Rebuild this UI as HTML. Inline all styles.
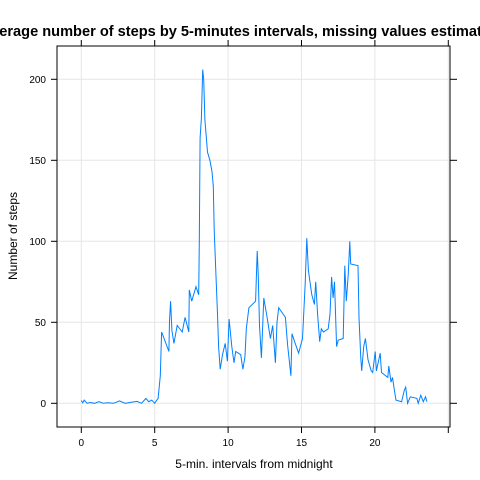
<!DOCTYPE html>
<html><head><meta charset="utf-8">
<style>
html,body{margin:0;padding:0;background:#fff;}
svg{display:block;font-family:"Liberation Sans",sans-serif;}
</style></head><body>
<svg id="chart" width="480" height="480" viewBox="0 0 480 480">
<text x="240" y="36" text-anchor="middle" font-size="14.6" font-weight="bold">Average number of steps by 5-minutes intervals, missing values estimated</text>
<g id="grid"></g>
<g id="axes"></g>
<path id="line" fill="none" stroke="#0080ff" stroke-width="1"></path>
<rect x="57" y="46" width="393" height="381" fill="none" stroke="#000" stroke-width="1"></rect>
<text x="254" y="468" text-anchor="middle" font-size="12">5-min. intervals from midnight</text>
<text transform="translate(17,236) rotate(-90)" text-anchor="middle" font-size="12">Number of steps</text>
</svg>
<script>
const hours=[0,0.1,0.2,0.4,0.6,0.9,1.2,1.5,1.8,2.2,2.6,3.0,3.4,3.8,4.1,4.4,4.6,4.8,5.0,5.1,5.23,5.38,5.47,5.56,5.97,6.01,6.08,6.17,6.31,6.53,6.87,7.07,7.32,7.36,7.52,7.81,8.0,8.04,8.09,8.18,8.27,8.34,8.42,8.6,8.76,8.9,8.99,9.05,9.17,9.28,9.35,9.46,9.62,9.8,9.95,10.07,10.25,10.4,10.52,10.86,11.01,11.15,11.24,11.42,11.87,11.98,12.05,12.14,12.27,12.43,12.66,12.88,13.04,13.22,13.33,13.45,13.9,14.05,14.28,14.35,14.53,14.8,15.07,15.25,15.36,15.47,15.7,15.88,15.97,16.1,16.24,16.35,16.5,16.82,16.94,17.05,17.15,17.25,17.39,17.5,17.84,17.95,18.05,18.18,18.29,18.35,18.85,18.92,19.03,19.1,19.24,19.35,19.53,19.75,19.85,20.02,20.1,20.36,20.45,20.88,20.95,21.1,21.2,21.33,21.44,21.82,22.0,22.1,22.23,22.41,22.86,22.95,23.13,23.3,23.45,23.55];
const steps=[1.7,0.3,2,0,0.5,0,1,0,0.4,0,1.5,0,0.6,1.2,0,3,1,2,0,1.5,3,17,44,42,32,51,63,45,37,48,44,53,44,70,63,72,67,100,164,176,206,200,175,155,150,143,134,107,80,55,35,21,30,37,26,52,35,25,32,30,21,29,46,59,63,94,80,48,28,65,53,40,48,25,50,59,53,36,17,43,38,31,40,74,102,82,67,61,75,55,38,46,44,46,55,78,65,75,35,39,40,85,63,79,100,86,85,53,29,20,35,40,27,20,19,32,20,31,19,16,23,13,16,8,2,1,8,10,0,4,3,0,5,1,4,1];
const xTicks=[0,5,10,15,20,25];
const xLabels=['0','5','10','15','20',''];
const yTicks=[0,50,100,150,200];
const X=h=>81.3+h*14.68;
const Y=v=>403.3-v*1.62;
const NS="http://www.w3.org/2000/svg";
const grid=document.getElementById('grid'),axes=document.getElementById('axes');
function mk(tag,at,par){const e=document.createElementNS(NS,tag);for(const k in at)e.setAttribute(k,at[k]);par.appendChild(e);return e;}
xTicks.forEach((t,i)=>{
  if(X(t)<450){const g=mk('line',{x1:X(t),x2:X(t),y1:46,y2:427,stroke:'#e6e6e6'},grid);
  
  }
  [[427,433],[40,46]].forEach(p=>{const l=mk('line',{x1:X(t),x2:X(t),y1:p[0],y2:p[1],stroke:'#000'},axes);
  
  });
  const tx=mk('text',{x:X(t),y:446,'text-anchor':'middle','font-size':10},axes);tx.textContent=xLabels[i];
  
  
});
yTicks.forEach(t=>{
  const g=mk('line',{x1:57,x2:450,y1:Y(t),y2:Y(t),stroke:'#e6e6e6'},grid);
  
  
  [[51,57],[450,457]].forEach(p=>{const l=mk('line',{x1:p[0],x2:p[1],y1:Y(t),y2:Y(t),stroke:'#000'},axes);
  
  });
  const tx=mk('text',{x:46,y:Y(t)+3.5,'text-anchor':'end','font-size':10},axes);tx.textContent=t;
  
  
});
document.getElementById('line').setAttribute('d',hours.map((h,i)=>(i?'L':'M')+X(h).toFixed(1)+','+Y(steps[i]).toFixed(1)).join(''));
</script>
</body></html>
